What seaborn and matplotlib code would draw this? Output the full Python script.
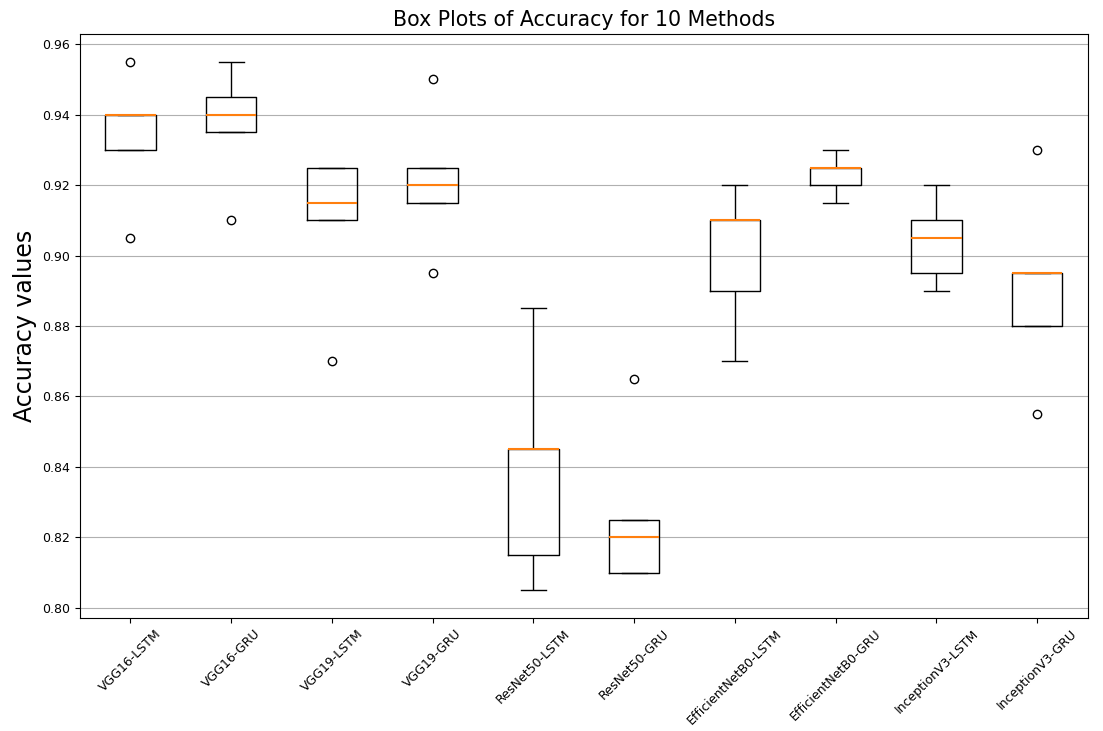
import numpy as np
import pandas as pd
import matplotlib
matplotlib.use("Agg")
import matplotlib.pyplot as plt
import matplotlib.colors as mcolors
import seaborn as sns

methods = ["VGG16-LSTM", "VGG16-GRU", "VGG19-LSTM", "VGG19-GRU",
           "ResNet50-LSTM", "ResNet50-GRU", "EfficientNetB0-LSTM",
           "EfficientNetB0-GRU", "InceptionV3-LSTM", "InceptionV3-GRU"]

vgg16_lstm = [0.905, 0.93, 0.94, 0.94, 0.955]
vgg16_gru = [0.91, 0.935, 0.94, 0.945, 0.955]
vgg19_lstm = [0.87, 0.91, 0.915, 0.925, 0.925]
vgg19_gru = [0.895, 0.915, 0.92, 0.925, 0.95]
resnet50_lstm = [0.805, 0.815, 0.845, 0.845, 0.885]
resnet50_gru = [0.81, 0.81, 0.82, 0.825, 0.865]
effb0_lstm = [0.87, 0.89, 0.91, 0.91, 0.92]
effb0_gru = [0.915, 0.92, 0.925, 0.925, 0.93]
incv3_lstm = [0.89, 0.895, 0.905, 0.91, 0.92]
incv3_gru = [0.855, 0.88, 0.895, 0.895, 0.93]

series = [vgg16_lstm, vgg16_gru, vgg19_lstm, vgg19_gru, resnet50_lstm,
          resnet50_gru, effb0_lstm, effb0_gru, incv3_lstm, incv3_gru]

df = pd.DataFrame({
    "Method": np.repeat(methods, [len(s) for s in series]),
    "Accuracy": np.concatenate(series),
})

MEDIAN_COLOR = "#ff7f0e"

fig, ax = plt.subplots(figsize=(11.03, 7.31), dpi=100)
fig.subplots_adjust(left=0.0725, right=0.986, top=0.953, bottom=0.155)

sns.boxplot(
    data=df, x="Method", y="Accuracy", order=methods, ax=ax,
    width=0.5, whis=1.5, fill=False, color="black", linewidth=1.0,
    medianprops=dict(color=MEDIAN_COLOR, linewidth=1.5),
    flierprops=dict(marker="o", markerfacecolor="none",
                    markeredgecolor="black", markersize=6),
)

# keep the median lines above box outlines and caps
median_rgba = mcolors.to_rgba(MEDIAN_COLOR)
for patch in ax.patches:
    patch.set_zorder(2)
for line in ax.lines:
    if mcolors.to_rgba(line.get_color()) == median_rgba:
        line.set_zorder(10)
    else:
        line.set_zorder(2.5)

ax.set_xlim(-0.5, len(methods) - 0.5)
ax.set_ylim(0.7972, 0.9628)
ax.set_yticks(np.arange(0.80, 0.961, 0.02))
ax.yaxis.grid(True, color="#b0b0b0", linewidth=0.8)
ax.set_axisbelow(True)

ax.set_title("Box Plots of Accuracy for 10 Methods", fontsize=14.8)
ax.set_xlabel("")
ax.set_ylabel("Accuracy values", fontsize=17)
plt.setp(ax.get_xticklabels(), rotation=45)
ax.tick_params(labelsize=9)

fig.savefig("out.png", dpi=100)
